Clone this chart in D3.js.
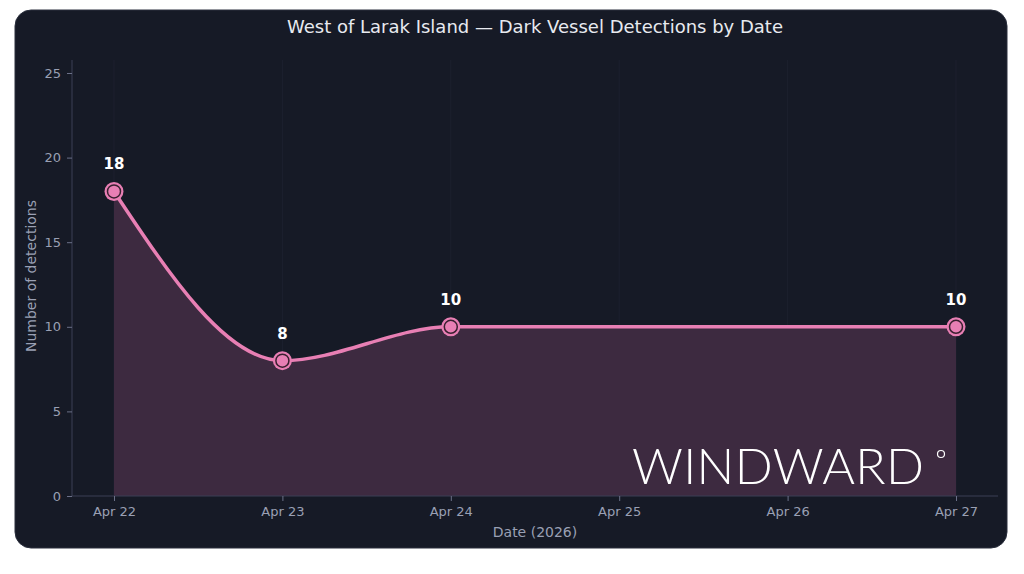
<!DOCTYPE html>
<html><head><meta charset="utf-8">
<script src="https://cdn.jsdelivr.net/npm/d3@7"></script>
<style>body{margin:0;background:#fff;font-family:"DejaVu Sans",sans-serif}</style>
</head><body>
<svg width="1024" height="574"></svg>
<script>
const dates = ["2026-04-22", "2026-04-23", "2026-04-24", "2026-04-27"];
const counts = [18, 8, 10, 10];
const tickDates = ["2026-04-22", "2026-04-23", "2026-04-24", "2026-04-25", "2026-04-26", "2026-04-27"];
const yTicks = [0, 5, 10, 15, 20, 25];

const parse = d3.utcParse("%Y-%m-%d");
const data = dates.map((d, i) => ({ date: parse(d), v: counts[i] }));

const svg = d3.select("svg");
svg.append("rect").attr("x", 15).attr("y", 10).attr("width", 992).attr("height", 538)
  .attr("rx", 16).attr("fill", "#161a26").attr("stroke", "#2a2f3d");

const x = d3.scaleUtc().domain([parse("2026-04-22"), parse("2026-04-27")]).range([114, 956]);
const y = d3.scaleLinear().domain([0, 25]).range([496, 73]);

// faint vertical gridlines
svg.append("g").selectAll("line").data(tickDates.map(parse)).join("line")
  .attr("x1", d => x(d)).attr("x2", d => x(d)).attr("y1", 60).attr("y2", 496)
  .attr("stroke", "#262a3a").attr("stroke-width", 0.8).attr("opacity", 0.5);

const curve = d3.curveMonotoneX;
svg.append("path").datum(data)
  .attr("d", d3.area().x(d => x(d.date)).y0(y(0)).y1(d => y(d.v)).curve(curve))
  .attr("fill", "#3d2a40");

// axes
const ax = svg.append("g").attr("transform", "translate(0,496)")
  .call(d3.axisBottom(x).tickValues(tickDates.map(parse)).tickFormat(d3.utcFormat("Apr %-d")).tickSize(5).tickPadding(6));
ax.select(".domain").attr("d", "M72,0H998");
const ay = svg.append("g").attr("transform", "translate(72,0)")
  .call(d3.axisLeft(y).tickValues(yTicks).tickSize(5).tickPadding(6));
ay.select(".domain").attr("d", "M0,60V496");
svg.selectAll(".domain").attr("stroke", "#3a3f55");
svg.selectAll(".tick line").attr("stroke", "#6b7088");
svg.selectAll(".tick text").attr("fill", "#9aa0b4").attr("font-size", 13).attr("font-family", "DejaVu Sans");

svg.append("path").datum(data)
  .attr("d", d3.line().x(d => x(d.date)).y(d => y(d.v)).curve(curve))
  .attr("fill", "none").attr("stroke", "#e87fb4").attr("stroke-width", 3.5);

const pts = svg.append("g").selectAll("g").data(data).join("g")
  .attr("transform", d => `translate(${x(d.date)},${y(d.v)})`);
pts.append("circle").attr("r", 9.5).attr("fill", "#e87fb4");
pts.append("circle").attr("r", 6.5).attr("fill", "#e87fb4").attr("stroke", "#3a2030").attr("stroke-width", 1.5);
pts.append("text").attr("y", -22).attr("text-anchor", "middle").attr("fill", "#fff")
  .attr("font-weight", "bold").attr("font-size", 15).text(d => d.v);

// watermark
svg.append("text").attr("x", 632).attr("y", 484).attr("fill", "#fff")
  .attr("font-family", "Lato").attr("font-weight", 300).attr("font-size", 50)
  .attr("textLength", 292).attr("lengthAdjust", "spacing").text("WINDWARD");
svg.append("circle").attr("cx", 941).attr("cy", 454).attr("r", 3.5)
  .attr("fill", "none").attr("stroke", "#fff").attr("stroke-width", 1.2);

svg.append("text").attr("x", 535).attr("y", 33).attr("text-anchor", "middle")
  .attr("fill", "#e8eaf0").attr("font-size", 18).text("West of Larak Island — Dark Vessel Detections by Date");
svg.append("text").attr("x", 535).attr("y", 537).attr("text-anchor", "middle")
  .attr("fill", "#9aa0b4").attr("font-size", 14).text("Date (2026)");
svg.append("text").attr("transform", "translate(36,276) rotate(-90)").attr("text-anchor", "middle")
  .attr("fill", "#9aa0b4").attr("font-size", 14).text("Number of detections");
</script>
</body></html>
